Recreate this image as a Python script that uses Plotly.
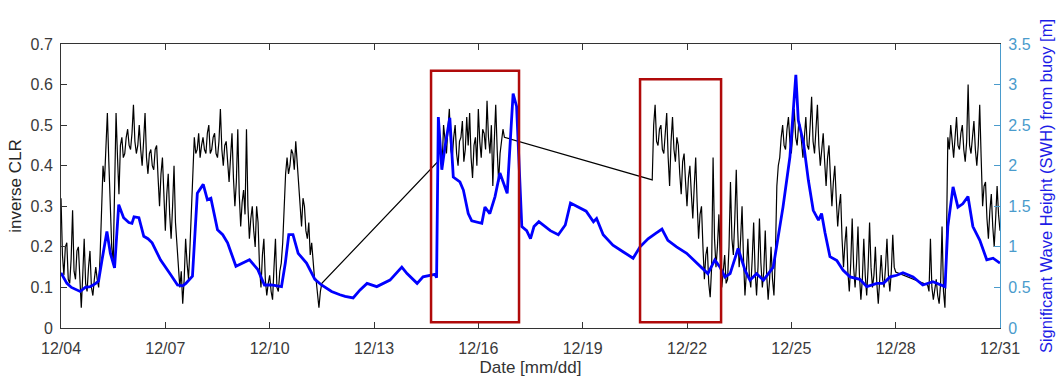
import pandas as pd
import plotly.graph_objects as go

# ---------------- data ----------------
# inverse CLR (black), recorded in segments with hourly sampling
step = "1h"
seg1_start = "2016-12-04 00:00"
seg1_clr = [0.32, 0.18, 0.13, 0.20, 0.21, 0.12, 0.11, 0.17, 0.29, 0.14, 0.12, 0.19,
            0.20, 0.10, 0.05, 0.13, 0.22, 0.11, 0.09, 0.15, 0.19, 0.10, 0.08, 0.12,
            0.15, 0.12, 0.10, 0.18, 0.27, 0.40, 0.36, 0.45, 0.53, 0.41, 0.30, 0.20,
            0.16, 0.35, 0.53, 0.42, 0.33, 0.45, 0.47, 0.42, 0.43, 0.47, 0.49, 0.45,
            0.44, 0.48, 0.55, 0.46, 0.43, 0.45, 0.50, 0.44, 0.40, 0.46, 0.53, 0.42,
            0.38, 0.43, 0.44, 0.40, 0.39, 0.44, 0.45, 0.37, 0.30, 0.38, 0.42, 0.33,
            0.24, 0.33, 0.38, 0.28, 0.22, 0.30, 0.40, 0.26, 0.20, 0.16, 0.10, 0.14,
            0.06, 0.12, 0.22, 0.16, 0.12, 0.20, 0.28, 0.38, 0.47, 0.43, 0.44, 0.48,
            0.42, 0.45, 0.47, 0.44, 0.43, 0.48, 0.50, 0.43, 0.44, 0.47, 0.48, 0.43,
            0.42, 0.46, 0.54, 0.44, 0.40, 0.45, 0.46, 0.41, 0.36, 0.42, 0.48, 0.37,
            0.30, 0.36, 0.49, 0.33, 0.25, 0.31, 0.34, 0.28, 0.49, 0.30, 0.22, 0.27,
            0.30, 0.24, 0.20, 0.30, 0.26, 0.15, 0.10, 0.18, 0.22, 0.12, 0.08, 0.11,
            0.13, 0.09, 0.07, 0.15, 0.22, 0.10, 0.09, 0.14, 0.16, 0.21, 0.30, 0.38,
            0.42, 0.38, 0.40, 0.44, 0.43, 0.39, 0.46, 0.40, 0.36, 0.30, 0.25, 0.32,
            0.30, 0.24, 0.22, 0.26, 0.18, 0.21, 0.15, 0.12, 0.12, 0.08, 0.05, 0.09,
            0.11]
seg2_start = "2016-12-14 20:00"
seg2_clr = [0.41, 0.45, 0.44, 0.40, 0.50, 0.46, 0.43, 0.49, 0.54, 0.44, 0.42, 0.47,
            0.50, 0.43, 0.40, 0.46, 0.47, 0.51, 0.41, 0.44, 0.52, 0.45, 0.53, 0.42,
            0.37, 0.45, 0.47, 0.40, 0.54, 0.46, 0.42, 0.49, 0.48, 0.44, 0.56, 0.47,
            0.43, 0.50, 0.35, 0.46, 0.55, 0.44, 0.36, 0.43, 0.47, 0.49, 0.47]
seg3_start = "2016-12-21 00:00"
seg3_clr = [0.365, 0.50, 0.55, 0.46, 0.45, 0.49, 0.50, 0.44, 0.43, 0.48, 0.53, 0.42,
            0.35, 0.46, 0.52, 0.44, 0.41, 0.47, 0.45, 0.38, 0.33, 0.41, 0.43, 0.36,
            0.30, 0.37, 0.40, 0.33, 0.27, 0.35, 0.42, 0.31, 0.22, 0.28, 0.30, 0.20,
            0.12, 0.18, 0.20, 0.11, 0.076, 0.15, 0.42, 0.22, 0.15, 0.20, 0.28, 0.16,
            0.10, 0.14, 0.18, 0.11, 0.12, 0.20, 0.36, 0.22, 0.18, 0.27, 0.39, 0.24,
            0.15, 0.22, 0.30, 0.17, 0.08, 0.14, 0.22, 0.13, 0.10, 0.17, 0.26, 0.14,
            0.08, 0.15, 0.27, 0.16, 0.10, 0.14, 0.24, 0.13, 0.07, 0.12, 0.20, 0.12,
            0.08, 0.18, 0.35, 0.40, 0.42, 0.47, 0.50, 0.45, 0.44, 0.49, 0.52, 0.46,
            0.43, 0.48, 0.54, 0.47, 0.45, 0.50, 0.50, 0.46, 0.42, 0.47, 0.52, 0.45,
            0.44, 0.50, 0.57, 0.46, 0.43, 0.49, 0.55, 0.45, 0.40, 0.44, 0.48, 0.41,
            0.35, 0.42, 0.45, 0.37, 0.30, 0.36, 0.40, 0.32, 0.25, 0.30, 0.33, 0.22,
            0.15, 0.21, 0.25, 0.14, 0.09, 0.16, 0.27, 0.15, 0.10, 0.16, 0.25, 0.13,
            0.07, 0.12, 0.22, 0.13, 0.08, 0.15, 0.26, 0.15, 0.10, 0.13, 0.20, 0.11,
            0.06, 0.12, 0.18, 0.12, 0.10, 0.15, 0.22, 0.13, 0.09, 0.14, 0.23, 0.15,
            0.138]
seg4_start = "2016-12-28 22:00"
seg4_clr = [0.106, 0.09, 0.22, 0.10, 0.07, 0.10, 0.12, 0.08, 0.06, 0.11, 0.25, 0.09,
            0.05, 0.20, 0.47, 0.44, 0.50, 0.46, 0.42, 0.47, 0.52, 0.45, 0.44, 0.48,
            0.50, 0.44, 0.41, 0.46, 0.60, 0.45, 0.43, 0.47, 0.51, 0.44, 0.40, 0.45,
            0.55, 0.42, 0.30, 0.35, 0.36, 0.27, 0.22, 0.29, 0.33, 0.25, 0.20, 0.27,
            0.35, 0.28, 0.24]

# significant wave height from buoy (blue), days after 12/04 00:00
swh_day = [0.0, 0.17, 0.3, 0.55, 0.7, 0.84, 1.0, 1.08, 1.18, 1.32, 1.42, 1.54, 1.66,
           1.8, 1.95, 2.04, 2.1, 2.24, 2.38, 2.5, 2.62, 2.86, 3.15, 3.35, 3.5, 3.59,
           3.78, 3.92, 4.09, 4.21, 4.31, 4.5, 4.65, 4.79, 5.03, 5.23, 5.42, 5.66,
           5.85, 6.05, 6.34, 6.45, 6.55, 6.67, 6.82, 7.06, 7.3, 7.49, 7.78, 8.02,
           8.17, 8.4, 8.6, 8.8, 9.08, 9.46, 9.8, 9.95, 10.24, 10.41, 10.6, 10.75,
           10.8, 10.85, 10.95, 11.04, 11.18, 11.28, 11.47, 11.57, 11.71, 11.81,
           12.1, 12.19, 12.33, 12.48, 12.62, 12.83, 13.0, 13.1, 13.25, 13.39, 13.5,
           13.6, 13.74, 13.93, 14.07, 14.3, 14.5, 14.65, 14.9, 15.1, 15.31, 15.4,
           15.59, 15.87, 16.16, 16.45, 16.65, 16.88, 17.08, 17.28, 17.45, 17.7,
           17.99, 18.32, 18.6, 18.8, 18.95, 19.09, 19.24, 19.47, 19.67, 19.81, 20.0,
           20.2, 20.33, 20.48, 20.62, 20.76, 20.96, 21.05, 21.13, 21.2, 21.35, 21.49,
           21.63, 21.78, 21.87, 21.97, 22.11, 22.31, 22.49, 22.69, 22.97, 23.17,
           23.46, 23.65, 23.84, 24.03, 24.21, 24.5, 24.78, 25.07, 25.42, 25.5, 25.65,
           25.79, 25.93, 26.08, 26.22, 26.42, 26.62, 26.8, 27.0]
swh_m = [0.68, 0.55, 0.5, 0.45, 0.5, 0.51, 0.55, 0.58, 0.84, 1.19, 0.92, 0.74, 1.52,
         1.36, 1.3, 1.29, 1.37, 1.36, 1.13, 1.1, 1.05, 0.84, 0.66, 0.53, 0.52, 0.55,
         0.64, 1.66, 1.77, 1.58, 1.6, 1.21, 1.15, 1.05, 0.76, 0.8, 0.84, 0.72, 0.53,
         0.53, 0.51, 0.8, 1.15, 1.15, 0.92, 0.8, 0.6, 0.53, 0.45, 0.41, 0.39, 0.37,
         0.47, 0.55, 0.51, 0.59, 0.75, 0.67, 0.55, 0.63, 0.65, 0.66, 0.62, 2.6,
         1.95, 2.23, 2.59, 1.86, 1.8, 1.7, 1.41, 1.32, 1.29, 1.49, 1.41, 1.62, 1.91,
         1.66, 2.89, 2.73, 1.25, 1.2, 1.1, 1.25, 1.31, 1.25, 1.2, 1.15, 1.27, 1.54,
         1.49, 1.44, 1.31, 1.35, 1.15, 1.02, 0.94, 0.86, 1.0, 1.1, 1.16, 1.22,
         1.08, 1.0, 0.92, 0.78, 0.67, 0.84, 0.75, 0.63, 0.67, 0.98, 0.71, 0.59,
         0.67, 0.59, 0.67, 0.75, 1.12, 1.49, 2.11, 2.69, 3.12, 2.56, 2.28, 1.82,
         1.45, 1.33, 1.41, 1.17, 0.88, 0.83, 0.71, 0.63, 0.6, 0.51, 0.55, 0.55,
         0.63, 0.65, 0.68, 0.63, 0.53, 0.57, 0.51, 1.25, 1.74, 1.49, 1.53, 1.62,
         1.25, 1.08, 0.84, 0.86, 0.8]

tick_dates = ["2016-12-04", "2016-12-07", "2016-12-10", "2016-12-13", "2016-12-16",
              "2016-12-19", "2016-12-22", "2016-12-25", "2016-12-28", "2016-12-31"]
tick_labels = ["12/04", "12/07", "12/10", "12/13", "12/16",
               "12/19", "12/22", "12/25", "12/28", "12/31"]

# highlighted periods (red boxes): start, end, inverse-CLR bottom/top
box_start = ["2016-12-14 15:22", "2016-12-20 15:36"]
box_end = ["2016-12-17 04:05", "2016-12-22 23:31"]
box_low = [0.014, 0.014]
box_high = [0.634, 0.613]

# ---------------- build ----------------
base = pd.Timestamp("2016-12-04 00:00")
clr_x, clr_y = [], []
for start, vals in [(seg1_start, seg1_clr), (seg2_start, seg2_clr),
                    (seg3_start, seg3_clr), (seg4_start, seg4_clr)]:
    clr_x += list(pd.date_range(start=start, periods=len(vals), freq=step))
    clr_y += vals
swh_x = base + pd.to_timedelta(swh_day, unit="D")

FONT = "Liberation Sans, Arial, Helvetica, sans-serif"
AX = "#333333"
RIGHT = "#4a9bcc"

fig = go.Figure()
fig.add_trace(go.Scatter(x=clr_x, y=clr_y, mode="lines",
                         line=dict(color="black", width=1.2), yaxis="y",
                         showlegend=False))
fig.add_trace(go.Scatter(x=swh_x, y=swh_m, mode="lines",
                         line=dict(color="#0000ff", width=2.8), yaxis="y2",
                         showlegend=False))

for x0, x1, y0, y1 in zip(box_start, box_end, box_low, box_high):
    fig.add_shape(type="rect", xref="x", yref="y", x0=x0, x1=x1, y0=y0, y1=y1,
                  line=dict(color="#b00a0a", width=2.5), layer="above")

fig.update_layout(
    width=1060, height=386,
    margin=dict(l=61, r=60, t=44, b=58, autoexpand=False),
    paper_bgcolor="white", plot_bgcolor="white",
    font=dict(family=FONT, size=16, color=AX),
    xaxis=dict(range=["2016-12-04", "2016-12-31"], tickvals=tick_dates,
               ticktext=tick_labels, ticks="inside", ticklen=6, tickcolor=AX,
               showline=True, linecolor=AX, linewidth=1, mirror="ticks",
               showgrid=False, zeroline=False, ticklabelstandoff=6,
               automargin=False,
               tickfont=dict(size=16, color="#3a3a3a"),
               title=dict(text="Date [mm/dd]", font=dict(size=17, color="#333333"),
                          standoff=4)),
    yaxis=dict(range=[0, 0.7], dtick=0.1, tick0=0, ticks="inside", ticklen=6,
               tickcolor=AX, showline=True, linecolor=AX, linewidth=1,
               showgrid=False, zeroline=False, ticklabelstandoff=4,
               automargin=False,
               tickfont=dict(size=16, color="#3a3a3a"),
               title=dict(text="inverse CLR", font=dict(size=17, color="#262626"),
                          standoff=4)),
    yaxis2=dict(range=[0, 3.5], dtick=0.5, tick0=0, overlaying="y", side="right",
                ticks="inside", ticklen=6, tickcolor=RIGHT, showline=True,
                linecolor=RIGHT, linewidth=1.2, showgrid=False, zeroline=False,
                ticklabelstandoff=4, automargin=False,
                tickfont=dict(size=16, color=RIGHT),
                title=dict(text="Significant Wave Height (SWH) from buoy [m]",
                           font=dict(size=16.5, color="#1c1ce6"), standoff=10)),
)

fig.write_html("out.html")
